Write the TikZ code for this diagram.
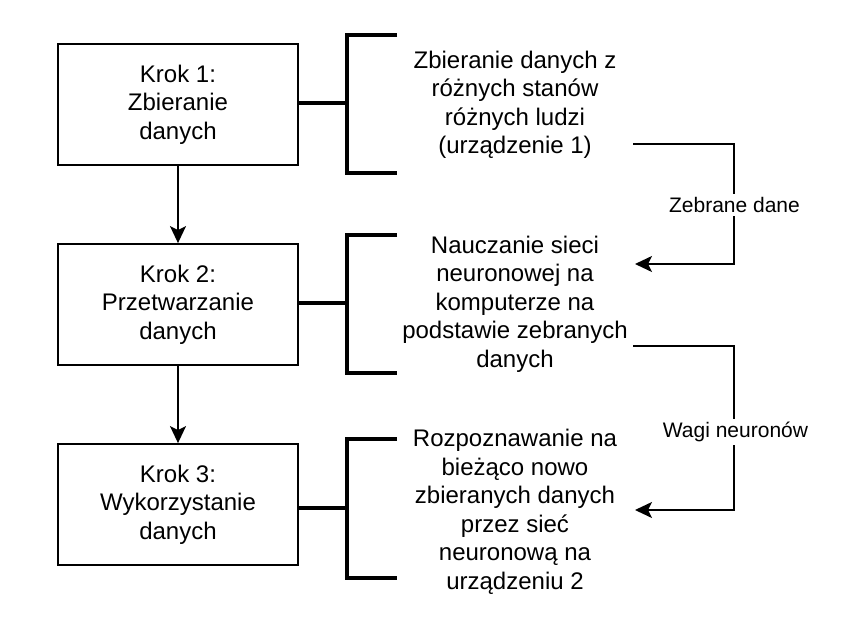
\documentclass[tikz,border=0pt]{standalone}
\usepackage{fontspec}
\setmainfont{Liberation Sans}
\usetikzlibrary{arrows.meta, positioning}

\tikzset{
    stepBox/.style={draw, line width=1.8pt, minimum width=240pt, minimum height=121pt, align=center, font=\fontsize{24}{28.5}\selectfont},
    noteText/.style={align=center, font=\fontsize{24}{28.5}\selectfont},
    flowArrow/.style={line width=1.8pt, -{Stealth[length=17pt, width=16pt, inset=4pt]}},
    bracketLine/.style={line width=4.5pt},
    edgeLabel/.style={fill=white, inner sep=3pt, font=\fontsize{21}{25}\selectfont}
}

\begin{document}
\begin{tikzpicture}[x=1pt, y=-1pt]
\useasboundingbox (0,0) rectangle (841,627);

\node[stepBox] (krok1) at (178,104.5) {Krok 1:\\Zbieranie\\danych};
\node[stepBox] (krok2) at (178,304.5) {Krok 2:\\Przetwarzanie\\danych};
\node[stepBox] (krok3) at (178,504.5) {Krok 3:\\Wykorzystanie\\danych};

\draw[flowArrow] (krok1) -- (krok2);
\draw[flowArrow] (krok2) -- (krok3);

\draw[bracketLine] (397,35) -- (347,35) -- (347,173) -- (397,173);
\draw[bracketLine] (397,235) -- (347,235) -- (347,373) -- (397,373);
\draw[bracketLine] (397,439) -- (347,439) -- (347,578) -- (397,578);
\coordinate (br1) at (347,103);
\coordinate (br2) at (347,303);
\coordinate (br3) at (347,508);
\draw[bracketLine] (krok1.east |- br1) -- (br1);
\draw[bracketLine] (krok2.east |- br2) -- (br2);
\draw[bracketLine] (krok3.east |- br3) -- (br3);

\node[noteText] (opis1) at (515,105) {Zbieranie danych z\\różnych stanów\\różnych ludzi\\(urządzenie 1)};
\node[noteText] (opis2) at (515,304) {Nauczanie sieci\\neuronowej na\\komputerze na\\podstawie zebranych\\danych};
\node[noteText] (opis3) at (515,512) {Rozpoznawanie na\\bieżąco nowo\\zbieranych danych\\przez sieć\\neuronową na\\urządzeniu 2};

\coordinate (out1) at (633,144);
\coordinate (in2) at (635,264);
\coordinate (out2) at (633,346);
\coordinate (in3) at (635,510);

\draw[flowArrow] (out1) -- (734,144) -- (734,264) -- (in2);
\draw[flowArrow] (out2) -- (734,346) -- (734,510) -- (in3);
\node[edgeLabel] (dane) at (734.5,205) {Zebrane dane};
\node[edgeLabel] (wagi) at (735.5,432) {Wagi neuronów};

\end{tikzpicture}
\end{document}
